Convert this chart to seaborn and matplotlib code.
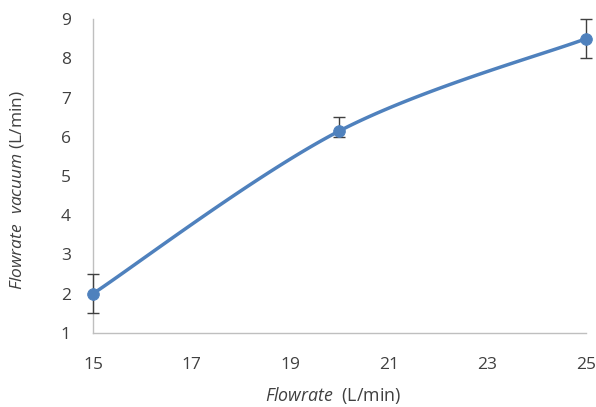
import numpy as np
import matplotlib
matplotlib.use("Agg")
import matplotlib.pyplot as plt
import seaborn as sns
import pandas as pd

flowrate = [15, 20, 25]
vacuum = [2.0, 6.15, 8.5]
err_low = [0.5, 0.15, 0.5]
err_high = [0.5, 0.35, 0.5]
x_ticks = [15, 17, 19, 21, 23, 25]
y_ticks = [1, 2, 3, 4, 5, 6, 7, 8, 9]

sns.set_style("white")
plt.rcParams['font.family'] = ['Open Sans', 'DejaVu Sans']
plt.rcParams['mathtext.fontset'] = 'custom'
plt.rcParams['mathtext.rm'] = 'Open Sans'
plt.rcParams['mathtext.it'] = 'Open Sans:italic'

fig = plt.figure(figsize=(5.96, 4.07), dpi=100)
ax = fig.add_axes([0.156, 0.182, 0.827, 0.771])

# Excel-like smooth curve (Bezier, tension 1/6) in normalized space
xr, yr = 10.0, 8.0
P = np.array([[x / xr, y / yr] for x, y in zip(flowrate, vacuum)])
curve = []
n = len(P)
for i in range(n - 1):
    p0 = P[i]
    p3 = P[i + 1]
    prev = P[i - 1] if i > 0 else P[i]
    nxt = P[i + 2] if i + 2 < n else P[i + 1]
    c1 = p0 + (p3 - prev) / 6
    c2 = p3 - (nxt - p0) / 6
    t = np.linspace(0, 1, 60)[:, None]
    seg = (1 - t) ** 3 * p0 + 3 * (1 - t) ** 2 * t * c1 + 3 * (1 - t) * t ** 2 * c2 + t ** 3 * p3
    curve.append(seg)
curve = np.vstack(curve)
df_curve = pd.DataFrame({"x": curve[:, 0] * xr, "y": curve[:, 1] * yr})

blue = "#4F81BD"
sns.lineplot(data=df_curve, x="x", y="y", ax=ax, color=blue, lw=2.5, sort=False)
ax.errorbar(flowrate, vacuum, yerr=[err_low, err_high], fmt='none',
            ecolor="#404040", elinewidth=1, capsize=4, capthick=1, zorder=3)
sns.scatterplot(x=flowrate, y=vacuum, ax=ax, color=blue, s=70, edgecolor=blue, zorder=4)

ax.set_xlim(15, 25)
ax.set_ylim(1, 9)
ax.set_xticks(x_ticks)
ax.set_yticks(y_ticks)
ax.set_xticklabels([str(v) for v in x_ticks])
ax.set_yticklabels([str(v) for v in y_ticks])
ax.set_xlabel("")
ax.set_ylabel("")

for s in ["top", "right"]:
    ax.spines[s].set_visible(False)
for s in ["left", "bottom"]:
    ax.spines[s].set_color("#BFBFBF")
    ax.spines[s].set_linewidth(1)
ax.tick_params(axis='x', direction='in', length=4, color="#BFBFBF", labelsize=12.5, labelcolor="#404040", pad=17)
ax.tick_params(axis='y', direction='out', length=6, color="#BFBFBF", labelsize=12.5, labelcolor="#404040", pad=10)
for c in ax.collections:
    c.set_clip_on(False)
for l in ax.lines:
    l.set_clip_on(False)

fig.text(333 / 596, 1 - 395 / 407, r"$\it{Flowrate}$  (L/min)", fontsize=12.8, color="#404040",
         ha='center', va='center')
fig.text(17 / 596, 1 - 190 / 407, r"$\it{Flowrate\ \ vacuum}$ (L/min)", fontsize=12.5, color="#404040",
         ha='center', va='center', rotation=90)

fig.savefig("out.png", dpi=100)
